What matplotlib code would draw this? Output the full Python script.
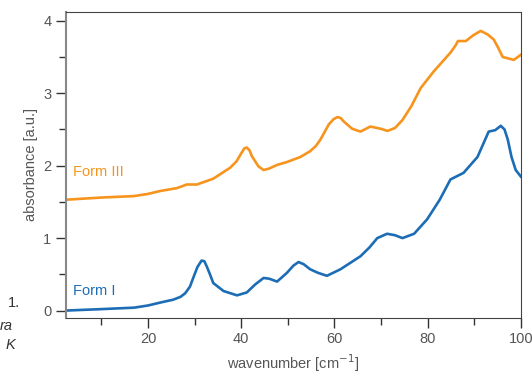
import matplotlib
matplotlib.use("Agg")
import matplotlib.pyplot as plt
from matplotlib.ticker import MultipleLocator

# Form III (orange) - wavenumber / absorbance
x_form3 = [2.4, 10, 17, 20, 22.6, 26.2, 27.5, 28.3, 30.5, 34.0, 37.6, 39.0, 40.1, 40.7, 41.2,
           41.8, 42.3, 43.7, 44.8, 46.0, 47.7, 49.8, 52.7, 54.8, 56.0, 57.0, 58.8, 59.8,
           60.6, 61.3, 62.0, 63.8, 65.6, 67.7, 69.9, 71.4, 73.0, 74.6, 76.5, 78.5, 81.3,
           84.9, 86.0, 86.5, 88.2, 89.8, 91.4, 92.9, 94.2, 95.2, 96.1, 98.5, 100]
y_form3 = [1.53, 1.56, 1.58, 1.61, 1.65, 1.69, 1.72, 1.74, 1.74, 1.82, 1.97, 2.06, 2.18, 2.24, 2.25,
           2.21, 2.13, 1.99, 1.94, 1.96, 2.01, 2.05, 2.12, 2.20, 2.27, 2.36, 2.57, 2.64,
           2.67, 2.66, 2.61, 2.51, 2.47, 2.54, 2.51, 2.48, 2.52, 2.63, 2.82, 3.07, 3.30,
           3.56, 3.66, 3.72, 3.72, 3.80, 3.86, 3.81, 3.74, 3.62, 3.50, 3.46, 3.53]

# Form I (blue)
x_form1 = [2.4, 10, 17, 20, 22.6, 25.4, 27.0, 28.0, 29.0, 29.7, 30.6, 31.5, 32.1, 32.6, 33.3,
           34.0, 36.2, 39.1, 41.2, 43.0, 44.8, 46.0, 47.7, 49.8, 51.2, 52.3, 53.4, 54.8,
           56.5, 58.4, 61.3, 65.6, 67.5, 69.2, 71.3, 73.0, 74.6, 77.1, 79.9, 82.6, 84.9,
           87.7, 90.7, 93.1, 94.5, 95.7, 96.5, 97.2, 98.0, 98.9, 100]
y_form1 = [0.0, 0.02, 0.04, 0.07, 0.11, 0.15, 0.19, 0.24, 0.33, 0.45, 0.60, 0.69, 0.68, 0.61, 0.50,
           0.38, 0.27, 0.21, 0.25, 0.36, 0.45, 0.44, 0.40, 0.52, 0.62, 0.67, 0.64, 0.57,
           0.52, 0.48, 0.57, 0.75, 0.87, 1.00, 1.06, 1.04, 1.00, 1.06, 1.26, 1.53, 1.81,
           1.90, 2.12, 2.47, 2.49, 2.55, 2.50, 2.36, 2.12, 1.94, 1.85]

orange = '#f7941d'
blue = '#1c6db5'
grey = '#555555'

plt.rcParams.update({
    'font.family': ['Liberation Sans', 'DejaVu Sans'],
    'font.size': 10.5,
    'xtick.direction': 'out',
    'ytick.direction': 'out',
    'xtick.color': '#333333',
    'ytick.color': '#333333',
    'xtick.labelcolor': grey,
    'ytick.labelcolor': grey,
})

fig = plt.figure(figsize=(5.32, 3.77), dpi=100)
ax = fig.add_axes([0.124, 0.157, 0.855, 0.811])

ax.plot(x_form3, y_form3, color=orange, lw=1.9, solid_joinstyle='round')
ax.plot(x_form1, y_form1, color=blue, lw=1.9, solid_joinstyle='round')

ax.text(4.0, 1.86, 'Form III', color=orange, fontsize=10.5)
ax.text(4.0, 0.22, 'Form I', color=blue, fontsize=10.5)

ax.set_xlim(2.4, 100)
ax.set_ylim(-0.1, 4.12)
ax.xaxis.set_major_locator(MultipleLocator(20))
ax.xaxis.set_minor_locator(MultipleLocator(10))
ax.yaxis.set_major_locator(MultipleLocator(1))
ax.yaxis.set_minor_locator(MultipleLocator(0.5))
ax.tick_params(which='major', length=7, width=1)
ax.tick_params(which='minor', length=5, width=1)

ax.set_xlabel('wavenumber [cm$^{-1}$]', color=grey)
ax.set_ylabel('absorbance [a.u.]', color=grey)

for side in ['top', 'right', 'bottom']:
    ax.spines[side].set_color('#444444')
ax.spines['left'].set_color('#888888')
ax.spines['left'].set_linewidth(1.5)

# clipped caption fragments at the left edge of the page
fig.text(0.015, 0.185, '1.', color='#333333', fontsize=10.5)
fig.text(0.0, 0.125, 'ra', color='#333333', fontsize=10.5, style='italic')
fig.text(0.01, 0.075, 'K', color='#333333', fontsize=10.5, style='italic')

fig.savefig('out.png', dpi=100)
